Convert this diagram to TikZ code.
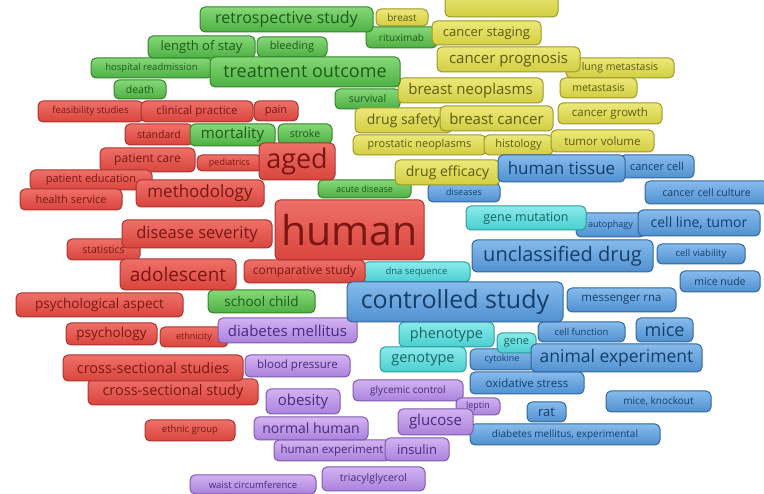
\documentclass[tikz,border=0pt]{standalone}
\usepackage{fontspec}
\setmainfont{Open Sans}
\pgfdeclarelayer{bg}
\pgfsetlayers{bg,main}
\definecolor{kredT}{HTML}{EE7068}\definecolor{kredB}{HTML}{D9453E}\definecolor{kredD}{HTML}{A83430}\definecolor{kredX}{HTML}{7A1713}
\definecolor{kgrnT}{HTML}{86D878}\definecolor{kgrnB}{HTML}{4DB043}\definecolor{kgrnD}{HTML}{34842C}\definecolor{kgrnX}{HTML}{1D5A18}
\definecolor{kyelT}{HTML}{ECE878}\definecolor{kyelB}{HTML}{D2CE42}\definecolor{kyelD}{HTML}{9E9828}\definecolor{kyelX}{HTML}{5E5A12}
\definecolor{kbluT}{HTML}{86BBEC}\definecolor{kbluB}{HTML}{5090D0}\definecolor{kbluD}{HTML}{33669A}\definecolor{kbluX}{HTML}{163E6A}
\definecolor{kcynT}{HTML}{8AEAEA}\definecolor{kcynB}{HTML}{4ACFD0}\definecolor{kcynD}{HTML}{2C9C9C}\definecolor{kcynX}{HTML}{196464}
\definecolor{kpurT}{HTML}{D4B2F2}\definecolor{kpurB}{HTML}{AA82DC}\definecolor{kpurD}{HTML}{7E5AAE}\definecolor{kpurX}{HTML}{4A2A7A}
\definecolor{edgec}{HTML}{E2B8B2}
\tikzset{
  kwbase/.style={rounded corners=5pt, draw, line width=1pt, inner sep=0pt, align=center},
  kred/.style={kwbase, draw=kredD, top color=kredT, bottom color=kredB, text=kredX},
  kgrn/.style={kwbase, draw=kgrnD, top color=kgrnT, bottom color=kgrnB, text=kgrnX},
  kyel/.style={kwbase, draw=kyelD, top color=kyelT, bottom color=kyelB, text=kyelX},
  kblu/.style={kwbase, draw=kbluD, top color=kbluT, bottom color=kbluB, text=kbluX},
  kcyn/.style={kwbase, draw=kcynD, top color=kcynT, bottom color=kcynB, text=kcynX},
  kpur/.style={kwbase, draw=kpurD, top color=kpurT, bottom color=kpurB, text=kpurX},
  edge/.style={draw=edgec, line width=0.7pt, opacity=0.8},
  faint/.style={draw=gray!15, line width=1.5pt}
}
\newcommand\kw[8]{\node[#5, font=\fontsize{#6}{#6}\selectfont, minimum width={(#3-#1)*1pt}, minimum height={(#4-#2)*1pt}] (#7) at ({(#1+#3)/2},{(#2+#4)/2}) {#8};}
\begin{document}
\begin{tikzpicture}[x=1pt,y=-1pt]
\fill[white] (0,0) rectangle (764,494);
\useasboundingbox (0,0) rectangle (764,494);
\clip (0,0) rectangle (764,494);
% tiny
\kw{445}{-10}{558}{17}{kyel}{10}{topcut}{}
\kw{91}{58}{212}{78}{kgrn}{9.5}{hosp}{hospital readmission}
\kw{38}{101}{143}{122}{kred}{9.5}{feas}{feasibility studies}
\kw{125}{124}{193}{145}{kred}{10.5}{stand}{standard}
\kw{197}{155}{262}{171}{kred}{9}{pedi}{pediatrics}
\kw{318}{180}{411}{198}{kgrn}{9}{acute}{acute disease}
\kw{428}{183}{500}{202}{kblu}{9}{dis}{diseases}
\kw{576}{213}{645}{237}{kblu}{9}{auto}{autophagy}
\kw{657}{244}{745}{264}{kblu}{9.5}{viab}{cell viability}
\kw{363}{262}{470}{282}{kcyn}{9.5}{dna}{dna sequence}
\kw{680}{271}{760}{292}{kblu}{10.5}{nude}{mice nude}
\kw{160}{327}{228}{347}{kred}{9}{ethn}{ethnicity}
\kw{538}{322}{625}{342}{kblu}{9.5}{cfun}{cell function}
\kw{470}{349}{534}{370}{kblu}{9}{cyto}{cytokine}
\kw{353}{380}{463}{401}{kpur}{10}{glyc}{glycemic control}
\kw{456}{398}{500}{415}{kpur}{9}{lept}{leptin}
\kw{606}{391}{711}{412}{kblu}{10}{knock}{mice, knockout}
\kw{145}{420}{235}{441}{kred}{9.5}{egrp}{ethnic group}
\kw{470}{424}{660}{445}{kblu}{10}{dme}{diabetes mellitus, experimental}
\kw{190}{475}{316}{494}{kpur}{9.5}{waist}{waist circumference}
\kw{322}{467}{425}{491}{kpur}{10.5}{tri}{triacylglycerol}
\kw{376}{9}{428}{26}{kyel}{10}{brst}{breast}
\kw{366}{27}{437}{48}{kgrn}{10}{ritu}{rituximab}
\kw{114}{80}{166}{99}{kgrn}{10.5}{death}{death}
\kw{335}{89}{400}{109}{kgrn}{10.5}{surv}{survival}
\kw{566}{58}{674}{78}{kyel}{10.5}{lungm}{lung metastasis}
\kw{560}{78}{637}{98}{kyel}{10.5}{meta}{metastasis}
\kw{254}{101}{298}{121}{kred}{11}{pain}{pain}
\kw{278}{124}{332}{144}{kgrn}{10.5}{strk}{stroke}
\kw{257}{37}{327}{57}{kgrn}{11}{bleed}{bleeding}
\kw{67}{239}{140}{260}{kred}{10.5}{stat}{statistics}
\kw{620}{155}{694}{178}{kblu}{11}{ccell}{cancer cell}
\kw{645}{181}{768}{204}{kblu}{10.5}{ccc}{cancer cell culture}
% small
\kw{141}{101}{253}{122}{kred}{11.5}{clin}{clinical practice}
\kw{558}{103}{662}{124}{kyel}{11.5}{cgrow}{cancer growth}
\kw{353}{135}{486}{155}{kyel}{11}{prost}{prostatic neoplasms}
\kw{484}{135}{553}{155}{kyel}{11}{hist}{histology}
\kw{551}{130}{654}{152}{kyel}{11.5}{tvol}{tumor volume}
\kw{100}{148}{195}{172}{kred}{12}{pcare}{patient care}
\kw{30}{170}{152}{190}{kred}{11}{pedu}{patient education}
\kw{20}{189}{122}{210}{kred}{11}{hserv}{health service}
\kw{567}{288}{676}{312}{kblu}{11.5}{mrna}{messenger rna}
\kw{245}{355}{350}{377}{kpur}{11.5}{bp}{blood pressure}
\kw{470}{372}{584}{394}{kblu}{11.5}{oxid}{oxidative stress}
\kw{274}{440}{390}{461}{kpur}{11.5}{hexp}{human experiment}
\kw{497}{333}{536}{353}{kcyn}{11}{gene}{gene}
\kw{527}{402}{566}{422}{kblu}{13}{rat}{rat}
\kw{148}{36}{255}{58}{kgrn}{13}{los}{length of stay}
\kw{432}{21}{541}{45}{kyel}{13}{cstag}{cancer staging}
\kw{244}{260}{365}{283}{kred}{12}{comp}{comparative study}
\kw{466}{206}{586}{230}{kcyn}{12.5}{gmut}{gene mutation}
\kw{385}{438}{449}{461}{kpur}{13}{ins}{insulin}
% medium
\kw{355}{108}{452}{133}{kyel}{14}{dsafe}{drug safety}
\kw{395}{160}{500}{185}{kyel}{14}{deff}{drug efficacy}
\kw{638}{210}{760}{236}{kblu}{14}{cltum}{cell line, tumor}
\kw{16}{293}{183}{317}{kred}{13.5}{psya}{psychological aspect}
\kw{208}{290}{315}{313}{kgrn}{13.5}{schl}{school child}
\kw{66}{323}{157}{345}{kred}{13.5}{psyc}{psychology}
\kw{254}{417}{368}{440}{kpur}{14}{nhum}{normal human}
\kw{437}{47}{580}{72}{kyel}{15}{cprog}{cancer prognosis}
\kw{398}{78}{543}{103}{kyel}{15}{bneo}{breast neoplasms}
\kw{440}{106}{553}{131}{kyel}{15}{bcan}{breast cancer}
\kw{190}{124}{275}{146}{kgrn}{15}{mort}{mortality}
\kw{218}{318}{357}{343}{kpur}{15}{dm}{diabetes mellitus}
\kw{399}{322}{494}{347}{kcyn}{14.5}{pheno}{phenotype}
\kw{380}{347}{466}{372}{kcyn}{14.5}{geno}{genotype}
\kw{88}{379}{258}{405}{kred}{14.5}{cs}{cross-sectional study}
\kw{63}{355}{243}{381}{kred}{14.5}{css}{cross-sectional studies}
\kw{266}{389}{340}{414}{kpur}{15}{obes}{obesity}
\kw{398}{409}{473}{435}{kpur}{15}{gluc}{glucose}
% large
\kw{200}{7}{373}{32}{kgrn}{16}{retro}{retrospective study}
\kw{498}{155}{625}{182}{kblu}{17}{htis}{human tissue}
\kw{136}{180}{264}{207}{kred}{17}{meth}{methodology}
\kw{122}{220}{272}{248}{kred}{16.5}{dsev}{disease severity}
\kw{210}{57}{400}{87}{kgrn}{18}{treat}{treatment outcome}
\kw{531}{344}{702}{372}{kblu}{17.5}{anim}{animal experiment}
\kw{636}{318}{693}{342}{kblu}{18}{mice}{mice}
\kw{120}{259}{236}{290}{kred}{19}{adol}{adolescent}
\kw{472}{240}{653}{272}{kblu}{20}{uncl}{unclassified drug}
\kw{347}{282}{563}{322}{kblu}{25}{ctrl}{controlled study}
\kw{259}{143}{335}{180}{kred}{27}{aged}{aged}
\kw{275}{200}{424}{260}{kred}{41}{human}{human}
% faint links
\coordinate (va) at (22,345);
\coordinate (vb) at (22,494);
\coordinate (vc) at (119,405);
\coordinate (vd) at (119,494);
\begin{pgfonlayer}{bg}
\draw[faint] (va) -- (vb);
\draw[faint] (vc) -- (vd);
\foreach \a/\b in {human/aged, human/ctrl, human/uncl, human/gmut, human/deff, human/bneo, human/treat, human/dm, human/pheno, human/geno, human/glyc, human/mort, human/dsev, human/adol, human/htis, human/anim, human/obes, aged/ctrl, ctrl/bcan, treat/ctrl, dm/uncl, human/cltum, human/mrna, human/cs, human/psya, human/meth, human/surv, human/prost, aged/bneo, ctrl/retro, human/stat, human/hserv, ctrl/anim, uncl/cltum, human/ccc, human/gluc, human/lept, aged/psyc}
  \draw[edge] (\a) to[bend left=10] (\b);
\end{pgfonlayer}
\end{tikzpicture}
\end{document}
